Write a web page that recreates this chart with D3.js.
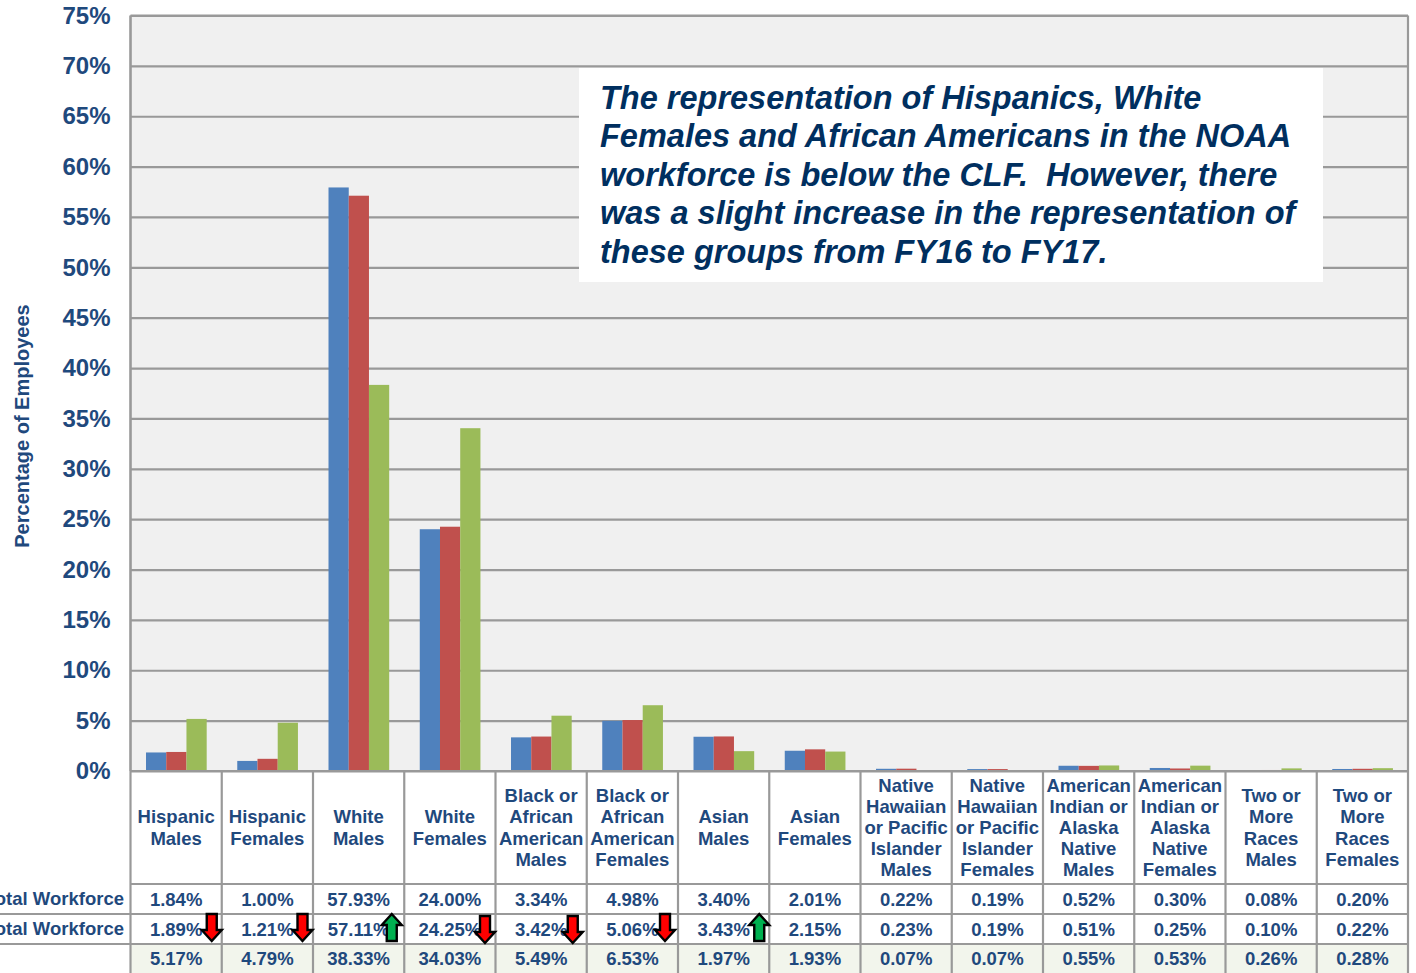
<!DOCTYPE html>
<html>
<head>
<meta charset="utf-8">
<script src="https://cdn.jsdelivr.net/npm/d3@7/dist/d3.min.js"></script>
<style>
html,body{margin:0;padding:0;background:#fff;overflow:hidden}
svg{display:block}
text{font-family:"Liberation Sans",Arial,sans-serif;font-weight:bold;fill:#1f497d}
</style>
</head>
<body>
<svg id="chart" width="1416" height="973"></svg>
<script>
const categories = ["Hispanic\nMales","Hispanic\nFemales","White\nMales","White\nFemales",
 "Black or\nAfrican\nAmerican\nMales","Black or\nAfrican\nAmerican\nFemales","Asian\nMales","Asian\nFemales",
 "Native\nHawaiian\nor Pacific\nIslander\nMales","Native\nHawaiian\nor Pacific\nIslander\nFemales",
 "American\nIndian or\nAlaska\nNative\nMales","American\nIndian or\nAlaska\nNative\nFemales",
 "Two or\nMore\nRaces\nMales","Two or\nMore\nRaces\nFemales"];
const series1 = [1.84,1.00,57.93,24.00,3.34,4.98,3.40,2.01,0.22,0.19,0.52,0.30,0.08,0.20];
const series2 = [1.89,1.21,57.11,24.25,3.42,5.06,3.43,2.15,0.23,0.19,0.51,0.25,0.10,0.22];
const series3 = [5.17,4.79,38.33,34.03,5.49,6.53,1.97,1.93,0.07,0.07,0.55,0.53,0.26,0.28];
const seriesNames = ["s1","s2","s3"];
const seriesColors = ["#4f81bd","#c0504d","#9bbb59"];
const rowLabels = ["Total Workforce","Total Workforce",""];
const yTicks = [0,5,10,15,20,25,30,35,40,45,50,55,60,65,70,75];
const arrowDirs = ["down","down","up","down","down","down","up",null,null,null,null,null,null,null];
const yTitle = "Percentage of Employees";
const noteLines = ["The representation of Hispanics, White",
 "Females and African Americans in the NOAA",
 "workforce is below the CLF.  However, there",
 "was a slight increase in the representation of",
 "these groups from FY16 to FY17."];

const L=130.5,R=1408,T=15.5,B=771;
const rowY=[884,914,944,975];
const lineCol="#999";
const svg=d3.select("#chart");
const x=d3.scaleBand().domain(d3.range(categories.length)).range([L,R]);
const y=d3.scaleLinear().domain([0,75]).range([B,T]);
const inner=d3.scaleBand().domain(seriesNames).range([x.bandwidth()*0.17,x.bandwidth()*0.835]);
const allSeries=[series1,series2,series3];

svg.append("rect").attr("x",L).attr("y",T).attr("width",R-L).attr("height",B-T).attr("fill","#f0f0f0");
svg.append("rect").attr("x",L).attr("y",rowY[2]).attr("width",R-L).attr("height",973-rowY[2]).attr("fill","#f2f5ec");

const axis=d3.axisLeft(y).tickValues(yTicks).tickFormat(d=>d+"%").tickSize(-(R-L)).tickPadding(20);
const gy=svg.append("g").attr("transform",`translate(${L},0)`).call(axis);
gy.select(".domain").remove();
gy.selectAll(".tick line").attr("stroke",lineCol).attr("stroke-width",2.2);
gy.selectAll(".tick text").attr("font-size",24).style("font-size","24px");

seriesNames.forEach((s,si)=>{
  svg.append("g").selectAll("rect").data(allSeries[si]).join("rect")
   .attr("x",(d,i)=>x(i)+inner(s)).attr("width",inner.bandwidth())
   .attr("y",d=>y(d)).attr("height",d=>B-y(d)).attr("fill",seriesColors[si]);
});

// note box
svg.append("rect").attr("x",579).attr("y",68).attr("width",744).attr("height",214).attr("fill","#fff");
svg.append("g").selectAll("text").data(noteLines).join("text")
 .attr("x",600).attr("y",(d,i)=>109+i*38.4)
 .style("font-size","32.5px").style("font-style","italic").style("fill","#002f5f")
 .attr("xml:space","preserve").style("white-space","pre").text(d=>d);

// table lines
const hl=svg.append("g");
[T,B,...rowY.slice(0,3)].forEach(v=>hl.append("line").attr("x1",v==T||v==B?L:L).attr("x2",R).attr("y1",v).attr("y2",v)
  .attr("stroke",lineCol).attr("stroke-width",2.2));
[0,1,2].forEach(k=>hl.append("line").attr("x1",0).attr("x2",L).attr("y1",rowY[k]).attr("y2",rowY[k])
  .attr("stroke",k==0?"none":lineCol).attr("stroke-width",2.2));
const cols=d3.range(categories.length+1);
svg.append("g").selectAll("line").data(cols).join("line")
 .attr("x1",d=>d<categories.length?x(d):R).attr("x2",d=>d<categories.length?x(d):R)
 .attr("y1",B).attr("y2",973).attr("stroke",lineCol).attr("stroke-width",2.2);
svg.append("line").attr("x1",L).attr("x2",L).attr("y1",T).attr("y2",B).attr("stroke",lineCol).attr("stroke-width",2.6);
svg.append("line").attr("x1",R).attr("x2",R).attr("y1",T).attr("y2",B).attr("stroke",lineCol).attr("stroke-width",2.2);

// category labels
const lh=21.2;
categories.forEach((c,i)=>{
  const parts=c.split("\n");
  const t=svg.append("text").attr("text-anchor","middle").style("font-size","18.5px");
  parts.forEach((p,k)=>t.append("tspan").attr("x",x(i)+x.bandwidth()/2)
    .attr("y",827.5+(k-(parts.length-1)/2)*lh+6.5).text(p));
});
// value rows
allSeries.forEach((s,r)=>{
  const cy=(rowY[r]+Math.min(rowY[r+1],973))/2+6.5;
  svg.append("g").selectAll("text").data(s).join("text")
   .attr("x",(d,i)=>x(i)+x.bandwidth()/2).attr("y",cy).attr("text-anchor","middle")
   .style("font-size","18.5px").text(d=>d.toFixed(2)+"%");
  if(rowLabels[r]) svg.append("text").attr("x",124).attr("y",(rowY[r]+rowY[r+1])/2+6)
   .attr("text-anchor","end").style("font-size","18.5px").text(rowLabels[r]);
});
// y title
svg.append("text").attr("transform","translate(29,426) rotate(-90)").attr("text-anchor","middle")
 .style("font-size","20px").text(yTitle);

// arrows
const arrowShift=[-10,-10.5,-12.5,-10.5,-14,-13,-10];
const arrowTop=[914,914,914,916,916,914,914];
const arrow=d3.line();
arrowDirs.forEach((dir,i)=>{
  if(!dir) return;
  const cx=x(i)+x.bandwidth()+arrowShift[i], t=arrowTop[i], h=27, hw=10, sw=5, hh=11;
  const pts=dir==="down"
   ? [[cx-sw,t],[cx+sw,t],[cx+sw,t+h-hh],[cx+hw,t+h-hh],[cx,t+h],[cx-hw,t+h-hh],[cx-sw,t+h-hh]]
   : [[cx-sw,t+h],[cx+sw,t+h],[cx+sw,t+hh],[cx+hw,t+hh],[cx,t],[cx-hw,t+hh],[cx-sw,t+hh]];
  svg.append("path").attr("d",arrow(pts)+"Z").attr("fill",dir==="down"?"#ff0000":"#00b050")
   .attr("stroke","#000").attr("stroke-width",2.4).attr("stroke-linejoin","miter");
});
</script>
</body>
</html>
